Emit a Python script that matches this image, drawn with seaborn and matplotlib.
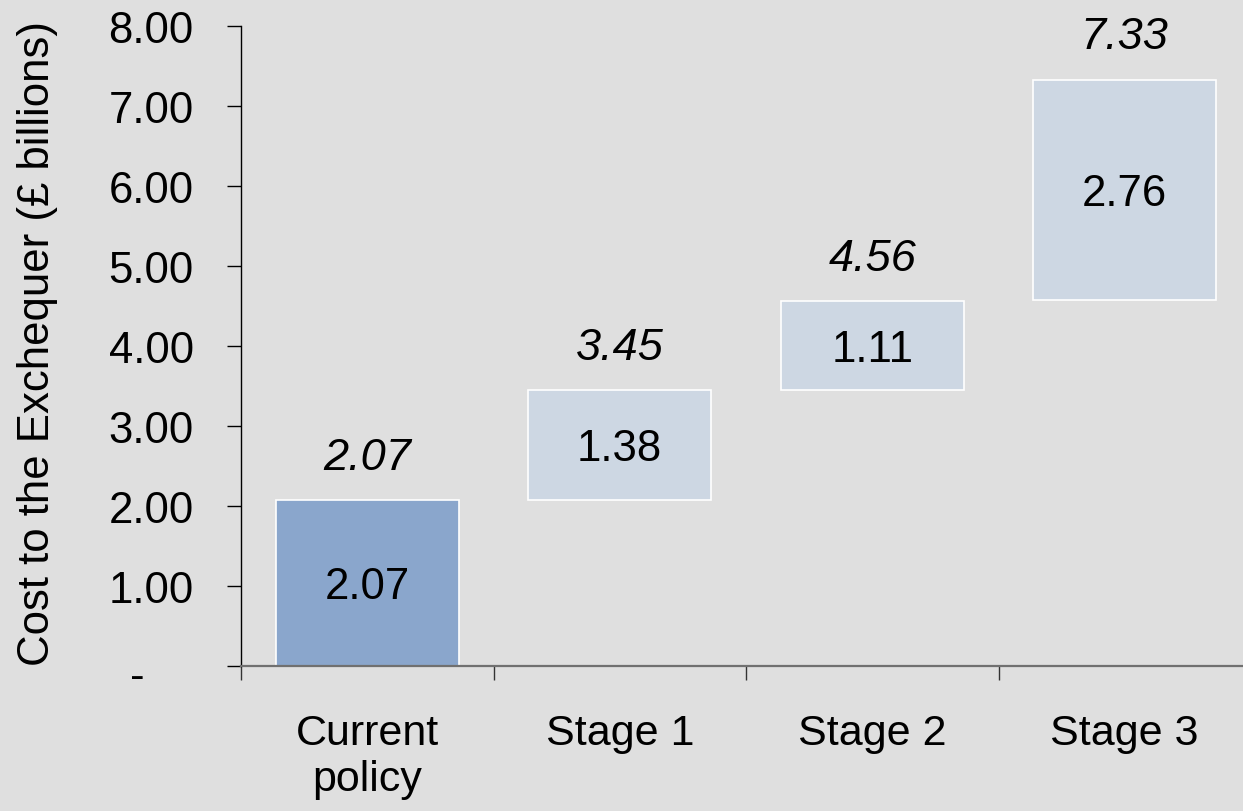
import pandas as pd
import seaborn as sns
import matplotlib.pyplot as plt
from matplotlib.transforms import ScaledTranslation

# --- Data ---
categories = ["Current\npolicy", "Stage 1", "Stage 2", "Stage 3"]
increments = [2.07, 1.38, 1.11, 2.76]
totals = [2.07, 3.45, 4.56, 7.33]
bar_colors = ["#8aa6cc", "#cdd7e3", "#cdd7e3", "#cdd7e3"]
y_ticks = [0, 1, 2, 3, 4, 5, 6, 7, 8]
y_tick_labels = ["-", "1.00", "2.00", "3.00", "4.00", "5.00", "6.00", "7.00", "8.00"]

df = pd.DataFrame({"stage": categories, "total": totals, "increment": increments})
df["base"] = df["total"] - df["increment"]

# --- Plotting ---
bg = "#dfdfdf"
sns.set_style("white", {"axes.facecolor": bg, "figure.facecolor": bg,
                        "text.color": "black", "axes.labelcolor": "black",
                        "xtick.color": "black", "ytick.color": "black"})
plt.rcParams["font.family"] = ["Liberation Sans", "DejaVu Sans"]

fig = plt.figure(figsize=(12.43, 8.12), dpi=100)
ax = fig.add_axes([241 / 1243, 145 / 812, 1010 / 1243, 640 / 812])

sns.barplot(data=df, x="stage", y="total", hue="stage", palette=bar_colors,
            saturation=1, width=0.725, edgecolor="white", linewidth=1.2,
            legend=False, ax=ax)

# turn the bars into floating waterfall steps
for patch, base, inc in zip(ax.patches, df["base"], df["increment"]):
    patch.set_y(base)
    patch.set_height(inc)

for i, row in df.iterrows():
    ax.annotate(f"{row['increment']:.2f}", (i, row["base"] + row["increment"] / 2),
                xytext=(0, -10.8), textcoords="offset points",
                ha="center", va="baseline", fontsize=31.5, color="black")
    ax.annotate(f"{row['total']:.2f}", (i, row["total"]), xytext=(0, 22.5),
                textcoords="offset points", ha="center", va="baseline",
                fontsize=32.5, style="italic", color="black")

# --- Formatting ---
ax.set_xlim(-0.5, 3.5)
ax.set_ylim(0, 8)
ax.set_yticks(y_ticks)
ax.set_yticklabels(y_tick_labels)
ax.tick_params(axis="y", left=True, length=10, width=1, color="black",
               labelcolor="black", pad=24, labelsize=31.5)
ax.tick_params(axis="x", which="major", length=0, pad=34, labelsize=31,
               labelcolor="black")
ax.set_xticks([-0.5, 0.5, 1.5, 2.5], minor=True)
ax.tick_params(axis="x", which="minor", bottom=True, length=10, width=1,
               color="#333333")

# shift the "-" zero label left/down like the accounting format
zero_lbl = ax.get_yticklabels()[0]
zero_lbl.set_transform(zero_lbl.get_transform()
                       + ScaledTranslation(-0.49, -0.06, fig.dpi_scale_trans))

sns.despine(ax=ax, top=True, right=True)
ax.spines["left"].set_color("black")
ax.spines["left"].set_linewidth(1)
ax.spines["bottom"].set_color("#707070")
ax.spines["bottom"].set_linewidth(1.6)

ax.set_xlabel("")
ax.set_ylabel("Cost to the Exchequer (£ billions)", fontsize=31.5, color="black",
              family=["Liberation Sans Narrow", "Liberation Sans"])
ax.yaxis.set_label_coords(-183 / 1010, 0.506)

fig.savefig("out.png", dpi=100, facecolor=bg)
